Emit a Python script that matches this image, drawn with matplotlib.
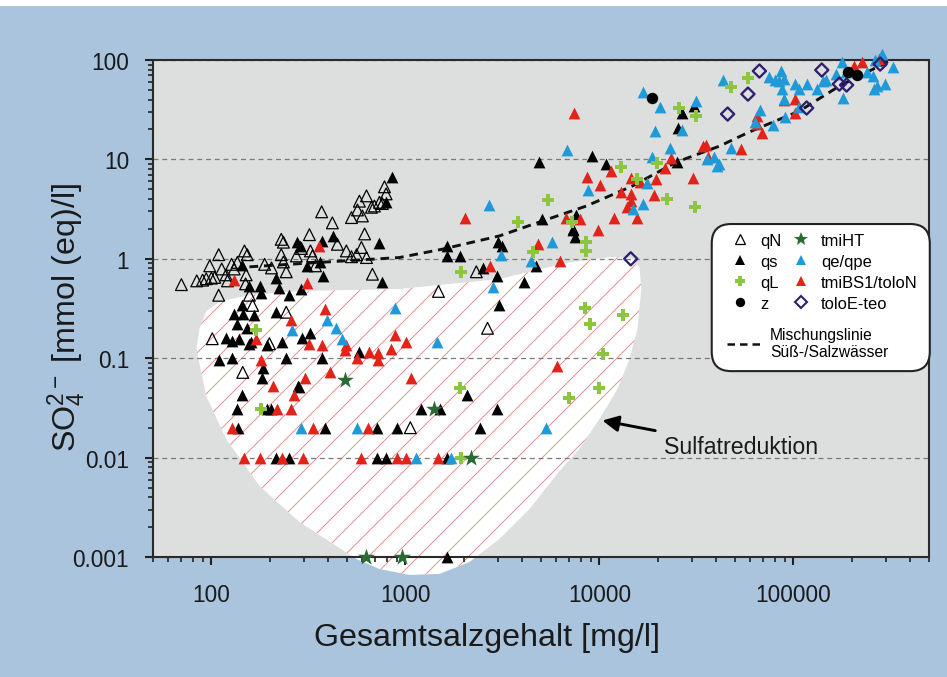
import matplotlib
matplotlib.use('Agg')
import matplotlib.pyplot as plt
from matplotlib.lines import Line2D
from matplotlib.patches import Polygon, FancyBboxPatch, Rectangle
from matplotlib.ticker import FuncFormatter

plt.rcParams['font.family'] = 'Liberation Sans'
plt.rcParams['mathtext.fontset'] = 'custom'
plt.rcParams['mathtext.rm'] = 'Liberation Sans'
plt.rcParams['mathtext.it'] = 'Liberation Sans:italic'
plt.rcParams['hatch.linewidth'] = 0.45

# ---- data ----
qN_x = [70, 84, 90, 94, 100, 104, 109, 109, 98, 113, 119, 121, 127, 131, 136, 148, 153, 151, 150, 157,
        163, 188, 204, 229, 235, 229, 235, 243, 274, 291, 320, 324, 332, 344, 370, 420, 446, 496, 527, 560,
        593, 630, 616, 527, 566, 579, 600, 630, 668, 692, 735, 760, 780, 795, 676, 101, 243, 199, 145, 1060,
        2650, 2320, 1480]
qN_y = [0.55, 0.60, 0.61, 0.63, 0.64, 0.65, 1.1, 0.43, 0.85, 0.79, 0.69, 0.60, 0.88, 0.79, 0.92, 1.2, 1.1, 0.69, 0.56, 0.43,
        0.34, 0.88, 0.81, 1.57, 1.47, 1.1, 0.93, 0.74, 1.07, 1.27, 1.75, 1.2, 1.07, 0.85, 2.97, 2.3, 1.4, 1.2, 1.05, 1.1,
        1.3, 1.03, 1.78, 2.6, 3.1, 3.8, 2.7, 4.3, 3.3, 3.4, 3.7, 3.6, 5.3, 4.5, 0.7, 0.157, 0.29, 0.14, 0.072, 0.02,
        0.2, 0.74, 0.47]

qs_x = [850, 795, 735, 760, 425, 375, 364, 370, 312, 277, 287, 291, 250, 224, 214, 143, 157, 177, 181, 143,
        130, 145, 166, 135, 153, 216, 119, 128, 138, 159, 194, 232, 294, 324, 370, 243, 579, 110, 128, 185,
        183, 143, 281, 157, 284, 135, 194, 204, 137, 384, 710, 910, 2430, 1210, 1500, 2080, 2950, 216, 252, 710,
        795, 1640, 1640, 3050, 4100, 2950, 2520, 1900, 3000, 3150, 7450, 4700, 7350, 1640, 1640, 4900, 5080, 9200,
        10800, 7600, 7300, 26600, 25400, 25000, 30800, 280000]
qs_y = [6.6, 3.7, 1.45, 0.58, 1.7, 0.67, 0.93, 1.5, 0.85, 1.48, 1.33, 0.5, 0.43, 0.51, 0.64, 0.86, 0.53, 0.53, 0.45, 0.34,
        0.28, 0.28, 0.27, 0.22, 0.2, 0.29, 0.16, 0.15, 0.157, 0.146, 0.135, 0.146, 0.16, 0.18, 0.10, 0.10, 0.115, 0.095, 0.10, 0.08,
        0.063, 0.043, 0.053, 0.14, 0.051, 0.031, 0.031, 0.031, 0.02, 0.02, 0.02, 0.02, 0.02, 0.031, 0.031, 0.043, 0.031, 0.01, 0.01, 0.01,
        0.01, 0.01, 0.001, 0.34, 0.58, 0.67, 0.81, 1.07, 1.48, 1.35, 1.65, 0.85, 1.97, 1.35, 1.07, 9.4, 2.5, 10.8,
        9.0, 2.75, 2.0, 29.4, 20.8, 9.4, 34.5, 100]

qL_x = [170, 181, 1920, 1940, 1940, 8400, 8950, 13300, 10480, 9900, 7000, 8500, 8500, 4550, 3790, 5400, 7200,
        12970, 19900, 22400, 31100, 25800, 31500, 15700, 58000, 47500]
qL_y = [0.19, 0.031, 0.05, 0.01, 0.74, 0.32, 0.22, 0.27, 0.11, 0.05, 0.04, 1.46, 1.19, 1.18, 2.35, 3.9, 2.35,
        8.4, 9.2, 4.0, 3.3, 32.9, 27.3, 6.3, 66, 53.5]

z_x = [18700, 192000, 213000]
z_y = [41.5, 75.7, 70.6]

tmiHT_x = [491, 1410, 2170, 630, 955]
tmiHT_y = [0.06, 0.031, 0.01, 0.001, 0.001]

qe_x = [880, 396, 261, 440, 473, 1450, 291, 560, 1140, 1720, 5300, 2840, 3110, 4460, 5700, 2710, 6800, 8760,
        16700, 20600, 19400, 31300, 26600, 23000, 18700, 17500, 16700, 14900, 39100, 35700, 40500, 43400, 75200,
        86500, 84700, 89800, 80000, 87400, 89800, 102000, 107000, 117000, 107000, 132000, 142000, 148000, 67400,
        63300, 78500, 90700, 47600, 41500, 178000, 180000, 264000, 285000, 327000, 256000, 270000, 261000, 296000,
        240000, 186000, 165000]
qe_y = [0.32, 0.245, 0.19, 0.2, 0.157, 0.146, 0.02, 0.02, 0.01, 0.01, 0.02, 0.52, 1.1, 0.96, 1.48, 3.5, 12.4, 4.9,
        47.6, 33.7, 19.3, 38.7, 19.8, 13.0, 10.6, 5.8, 3.6, 3.16, 10.6, 10.0, 8.6, 63, 67.5,
        77.5, 61, 65, 63, 51, 40.5, 57.3, 51, 57.3, 33.7, 51, 61.5, 63, 31.4,
        23.8, 22.2, 26.8, 13, 8.9, 95.5, 41.5, 100, 115, 85, 69, 55, 51, 57.3,
        75.7, 75.7, 72]

tmiBS_x = [360, 131, 312, 383, 258, 170, 181, 317, 370, 496, 566, 652, 725, 725, 840, 880, 208, 267, 305, 410,
           491, 1010, 1070, 219, 258, 128, 332, 644, 148, 179, 232, 298, 593, 910, 1010, 1480, 2730, 4840, 6280,
           6020, 9800, 2020, 7400, 8580, 10100, 11500, 6700, 7950, 12900, 14600, 14600, 14500, 13900, 15600, 16100,
           19200, 19600, 21800, 23400, 30300, 34300, 36500, 35500, 53500, 64800, 64800, 68600, 89800, 102000,
           102000, 206000, 225000, 277000, 11900]
tmiBS_y = [1.33, 0.61, 0.57, 0.31, 0.24, 0.157, 0.095, 0.14, 0.135, 0.135, 0.10, 0.115, 0.113, 0.095, 0.124, 0.17, 0.053, 0.043, 0.063, 0.072,
           0.12, 0.146, 0.063, 0.031, 0.031, 0.02, 0.02, 0.02, 0.01, 0.01, 0.01, 0.01, 0.01, 0.01, 0.01, 0.01, 0.85, 1.42, 0.96,
           0.083, 1.97, 2.6, 29.3, 6.6, 5.5, 7.7, 2.6, 2.5, 4.7, 6.5, 4.5, 3.8, 3.3, 2.6, 5.9,
           4.4, 6.3, 8.2, 10.3, 6.5, 13.6, 10.6, 14.0, 12.7, 27.3, 22.5, 18.4, 39.6, 40.5,
           29.3, 87, 95.5, 102, 2.6]

toloE_x = [66800, 58300, 45800, 117000, 140000, 172500, 188000, 280000, 14500]
toloE_y = [77.5, 45.4, 28.6, 32.9, 79.3, 57.3, 56, 91, 1.0]

# mixing line fresh/salt water
mix_x = [157, 300, 931, 1552, 3053, 5085, 8570, 14790, 24950, 41560, 59300, 107400, 172600, 312600]
mix_y = [0.83, 0.90, 1.03, 1.25, 1.70, 2.40, 3.40, 5.40, 9.4, 13.6, 18.9, 30.7, 54.7, 98]

# outline of the "Sulfatreduktion" area
blob_x = [86.7, 94, 112.6, 157, 284, 931, 3053, 6761, 11270, 14620, 16080, 16450, 15700, 14280, 12390, 10000,
          7880, 6220, 4360, 3053, 2138, 1497, 1049, 735, 559, 441, 284, 177, 119, 94, 83.7]
blob_y = [0.197, 0.299, 0.376, 0.432, 0.474, 0.497, 0.627, 0.908, 1.04, 1.02, 0.83, 0.497, 0.197, 0.098, 0.049, 0.0244,
          0.0122, 0.00733, 0.00304, 0.00152, 0.00089, 0.000675, 0.00066, 0.000757, 0.000955, 0.00129, 0.00225, 0.00518,
          0.0154, 0.0417, 0.124]

BLUE_BG = '#aac4de'
C_QE = '#1e9ad8'
C_RED = '#e2231a'
C_GREEN = '#8cc63f'
C_STAR = '#2a6b35'
C_DIA = '#2e1f6e'

fig = plt.figure(figsize=(947 / 150, 678 / 150), dpi=150, facecolor=BLUE_BG)
fig.add_artist(Rectangle((0, 1 - 6 / 678), 1, 6 / 678, transform=fig.transFigure, color='white', zorder=0))
ax = fig.add_axes([0.1616, 0.177, 0.8194, 0.733])
ax.set_facecolor('#dddfde')
ax.set_xscale('log')
ax.set_yscale('log')
ax.set_xlim(50, 500000)
ax.set_ylim(0.001, 100)

# hatched area
blob = Polygon(list(zip(blob_x, blob_y)), closed=True, facecolor='white', edgecolor='#e68c8c',
               linewidth=0, hatch='//', zorder=0.3, clip_on=False)
ax.add_patch(blob)

ax.set_axisbelow(True)
ax.yaxis.grid(True, which='major', linestyle=(0, (4, 3)), color='#7a7a7a', linewidth=0.6)

ax.plot(mix_x, mix_y, color='#111111', linestyle=(0, (3, 2)), linewidth=1.4, zorder=2)

kw = dict(clip_on=False, zorder=3)
ax.scatter(qN_x, qN_y, marker='^', s=32, facecolors='none', edgecolors='black', linewidths=0.6, **kw)
ax.scatter(qs_x, qs_y, marker='^', s=32, color='black', linewidths=0, **kw)
ax.scatter(tmiBS_x, tmiBS_y, marker='^', s=32, color=C_RED, linewidths=0, **kw)
ax.scatter(qe_x, qe_y, marker='^', s=32, color=C_QE, linewidths=0, **kw)
ax.scatter(qL_x, qL_y, marker='P', s=36, color=C_GREEN, linewidths=0, **kw)
ax.scatter(z_x, z_y, marker='o', s=30, color='black', linewidths=0, **kw)
ax.scatter(tmiHT_x, tmiHT_y, marker='*', s=72, color=C_STAR, linewidths=0, **kw)
ax.scatter(toloE_x, toloE_y, marker='D', s=20, facecolors='none', edgecolors=C_DIA, linewidths=1.1, **kw)

# axes styling
fmt = FuncFormatter(lambda v, _: f'{v:g}')
ax.xaxis.set_major_formatter(fmt)
ax.yaxis.set_major_formatter(fmt)
ax.tick_params(which='both', direction='out', top=False, right=False, color='#222222')
ax.tick_params(which='major', length=4, width=1.0, labelsize=10.8, labelcolor='#1a1a1a')
ax.tick_params(which='minor', length=2.2, width=0.8)
ax.tick_params(axis='y', which='major', pad=7.5)
ax.tick_params(axis='x', which='major', pad=8.5)
for sp in ax.spines.values():
    sp.set_color('#2a2a2a')
    sp.set_linewidth(1.0)

ax.set_xlabel('Gesamtsalzgehalt [mg/l]', fontsize=15.5, color='#1a1a1a')
ax.xaxis.set_label_coords(0.43, -0.13)
ax.set_ylabel(r'SO$_\mathregular{4}^\mathregular{2-}$ [mmol (eq)/l]', fontsize=15.5, color='#1a1a1a')
ax.yaxis.set_label_coords(-0.084, 0.483)

ax.annotate('Sulfatreduktion', xy=(10360, 0.0236), xytext=(21400, 0.0128), va='center', ha='left',
            fontsize=11.1, color='#1a1a1a',
            arrowprops=dict(arrowstyle='-|>', color='black', lw=1.4, mutation_scale=16,
                            shrinkA=2, shrinkB=0))

# legend
frame = FancyBboxPatch((0.720, 0.374), 0.281, 0.296, boxstyle='round,pad=0,rounding_size=0.025',
                       mutation_aspect=1.56, transform=ax.transAxes, facecolor='white',
                       edgecolor='#222222', linewidth=1.0, zorder=4, clip_on=False)
ax.add_patch(frame)

handles = [
    Line2D([], [], marker='^', ls='none', mfc='none', mec='black', ms=4.5, mew=0.6),
    Line2D([], [], marker='^', ls='none', color='black', ms=4.5, mew=0),
    Line2D([], [], marker='P', ls='none', color=C_GREEN, ms=5, mew=0),
    Line2D([], [], marker='o', ls='none', color='black', ms=4.5, mew=0),
    Line2D([], [], marker='*', ls='none', color=C_STAR, ms=7, mew=0),
    Line2D([], [], marker='^', ls='none', color=C_QE, ms=4.5, mew=0),
    Line2D([], [], marker='^', ls='none', color=C_RED, ms=4.5, mew=0),
    Line2D([], [], marker='D', ls='none', mfc='none', mec=C_DIA, ms=4, mew=1.0),
]
labels = ['qN', 'qs', 'qL', 'z', 'tmiHT', 'qe/qpe', 'tmiBS1/toloN', 'toloE-teo']
leg1 = ax.legend(handles, labels, ncol=2, loc='upper left', bbox_to_anchor=(0.746, 0.652),
                 frameon=False, borderpad=0, borderaxespad=0, fontsize=7.9, handlelength=1.0,
                 handletextpad=0.73, columnspacing=0.67, labelspacing=0.36)
leg1.set_zorder(5)
ax.add_artist(leg1)
leg2 = ax.legend([Line2D([], [], color='#111111', ls=(0, (3, 2)), lw=1.2)],
                 ['Mischungslinie\nSüß-/Salzwässer'], loc='upper left', bbox_to_anchor=(0.740, 0.463),
                 frameon=False, borderpad=0, borderaxespad=0, fontsize=7.5, handlelength=2.3,
                 handletextpad=0.45)
leg2.set_zorder(5)

fig.savefig('out.png', dpi=150, facecolor=fig.get_facecolor())
